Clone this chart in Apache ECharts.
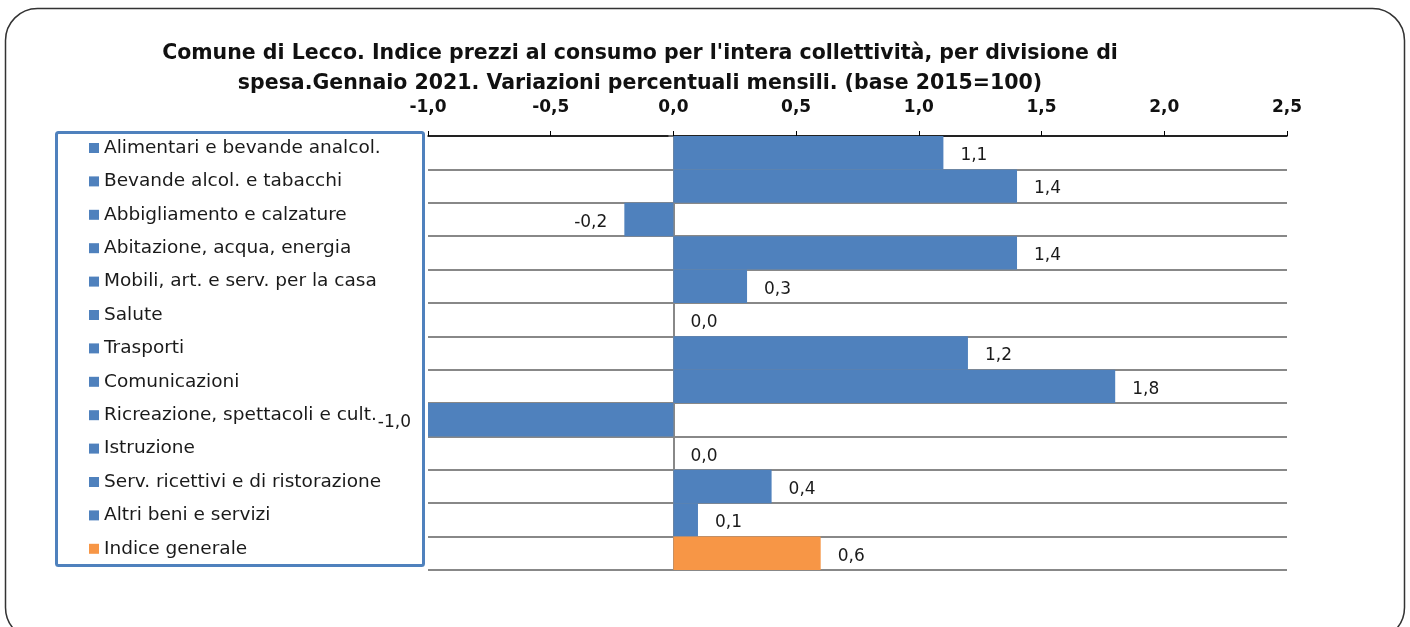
<!DOCTYPE html>
<html>
<head>
<meta charset="utf-8">
<script src="https://cdn.jsdelivr.net/npm/echarts@6/dist/echarts.min.js"></script>
<style>
  html, body { margin: 0; padding: 0; background: #fff; }
  #chart { width: 1410px; height: 627px; }
</style>
</head>
<body>
<div id="chart"></div>
<script>
var categories = [
  'Alimentari e bevande analcol.',
  'Bevande alcol. e tabacchi',
  'Abbigliamento e calzature',
  'Abitazione, acqua, energia',
  'Mobili, art. e serv. per la casa',
  'Salute',
  'Trasporti',
  'Comunicazioni',
  'Ricreazione, spettacoli e cult.',
  'Istruzione',
  'Serv. ricettivi e di ristorazione',
  'Altri beni e servizi',
  'Indice generale'
];
var values = [1.1, 1.4, -0.2, 1.4, 0.3, 0.0, 1.2, 1.8, -1.0, 0.0, 0.4, 0.1, 0.6];
var barColors = ['#4f81bd', '#4f81bd', '#4f81bd', '#4f81bd', '#4f81bd', '#4f81bd', '#4f81bd',
  '#4f81bd', '#4f81bd', '#4f81bd', '#4f81bd', '#4f81bd', '#f79646'];
var axisMin = -1.0, axisMax = 2.5, axisStep = 0.5;

var font = '"DejaVu Sans", sans-serif';

function fmt(v) {
  return Number(v).toFixed(1).replace('.', ',');
}

var myChart = echarts.init(document.getElementById('chart'));

var series = [];
for (var i = 0; i < categories.length; i++) {
  var data = [];
  for (var j = 0; j < values.length; j++) {
    data.push(j === i ? values[j] : '-');
  }
  series.push({
    name: categories[i],
    type: 'bar',
    stack: 'tot',
    barCategoryGap: '0%',
    data: data,
    itemStyle: { color: barColors[i] },
    label: {
      show: true,
      position: values[i] < 0 ? 'left' : 'right',
      distance: 17,
      offset: [0, 3],
      fontFamily: font,
      fontSize: 17,
      color: '#1a1a1a',
      formatter: function (p) { return fmt(p.value); }
    }
  });
}

var option = {
  animation: false,
  title: {
    text: "Comune di Lecco. Indice prezzi al consumo per l'intera collettività, per divisione di\nspesa.Gennaio 2021. Variazioni percentuali mensili. (base 2015=100)",
    left: 640,
    top: 39,
    padding: 0,
    textAlign: 'center',
    textStyle: {
      fontFamily: font,
      fontWeight: 'bold',
      fontSize: 20.5,
      lineHeight: 30,
      color: '#111'
    }
  },
  graphic: [
    {
      type: 'rect',
      z: -10,
      shape: { x: 5.5, y: 8.5, width: 1399, height: 631, r: 32 },
      style: { fill: 'none', stroke: '#333', lineWidth: 1.5 }
    },
    {
      type: 'rect',
      z: 0,
      shape: { x: 56.5, y: 132.5, width: 367, height: 433, r: 2 },
      style: { fill: '#fff', stroke: '#4f81bd', lineWidth: 3 }
    }
  ],
  legend: {
    orient: 'vertical',
    left: 89,
    top: 138,
    padding: 0,
    itemWidth: 10,
    itemHeight: 10,
    itemGap: 13.4,
    icon: 'rect',
    selectedMode: false,
    textStyle: {
      fontFamily: font,
      fontSize: 18.5,
      lineHeight: 20,
      color: '#1a1a1a'
    },
    data: categories
  },
  grid: {
    left: 428,
    right: 123,
    top: 136,
    bottom: 57,
    containLabel: false
  },
  xAxis: {
    type: 'value',
    position: 'top',
    min: axisMin,
    max: axisMax,
    interval: axisStep,
    axisLine: { show: true, lineStyle: { color: '#000', width: 1.5 } },
    axisTick: { show: true, length: 5, lineStyle: { color: '#000' } },
    splitLine: { show: false },
    axisLabel: {
      margin: 20,
      fontFamily: font,
      fontWeight: 'bold',
      fontSize: 17,
      color: '#111',
      formatter: function (v) { return fmt(v); }
    }
  },
  yAxis: {
    type: 'category',
    inverse: true,
    data: categories,
    axisLine: { show: true, onZero: true, lineStyle: { color: '#888', width: 2 } },
    axisTick: { show: true, length: 5, lineStyle: { color: '#888', width: 1.5 } },
    axisLabel: { show: false },
    splitLine: { show: true, lineStyle: { color: '#888', width: 2 } }
  },
  series: series
};

myChart.setOption(option);
</script>
</body>
</html>
